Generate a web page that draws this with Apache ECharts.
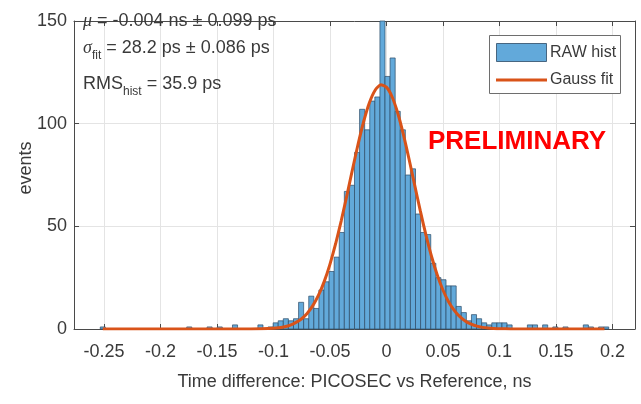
<!DOCTYPE html>
<html>
<head>
<meta charset="utf-8">
<script src="https://cdn.jsdelivr.net/npm/echarts@6/dist/echarts.min.js"></script>
<style>
  html, body { margin: 0; padding: 0; background: #ffffff; }
  #chart { width: 641px; height: 404px; }
</style>
</head>
<body>
<div id="chart"></div>
<script>
// Time difference histogram, PICOSEC vs reference, with its Gaussian fit.

// Histogram binning (ns)
const binStart = -0.25325;
const binWidth = 0.0045;
// Events per bin, left to right
const binCounts = [
  1, 0, 0, 0, 0,
  0, 0, 0, 0, 0,
  0, 0, 0, 0, 0,
  0, 0, 1, 0, 0,
  0, 1, 0, 1, 0,
  0, 2, 0, 0, 0,
  0, 2, 0, 1, 3,
  4, 5, 4, 5, 13,
  5, 16, 10, 19, 23,
  28, 35, 47, 67, 70,
  86, 107, 97, 111, 113,
  150,
  123, 132, 106, 97, 75,
  78, 56, 47, 46, 32,
  25, 24, 21, 21, 11,
  8, 4, 7, 5, 3,
  2, 3, 3, 3, 2,
  0, 0, 0, 2, 2,
  0, 2, 0, 1, 0,
  1, 0, 0, 0, 2,
  1, 0, 1, 1
];

// Gaussian fit curve samples (ns, events)
const fitX = [-0.251, -0.12, -0.11, -0.1, -0.095, -0.09, -0.085, -0.08, -0.075, -0.07,
  -0.065, -0.06, -0.055, -0.05, -0.045, -0.04, -0.035, -0.03, -0.025, -0.02,
  -0.015, -0.01, -0.005, 0, 0.005, 0.01, 0.015, 0.02, 0.025, 0.03,
  0.035, 0.04, 0.045, 0.05, 0.055, 0.06, 0.065, 0.07, 0.075, 0.08,
  0.085, 0.09, 0.095, 0.1, 0.11, 0.12, 0.193];
const fitY = [0, 0.03, 0.1, 0.36, 0.65, 1.1, 1.9, 3.2, 5.0, 7.7,
  11.5, 16.6, 23.2, 31.5, 41.4, 52.7, 65.0, 77.8, 90.2, 101.3,
  110.3, 116.3, 118.9, 117.8, 113.1, 105.2, 94.8, 82.8, 70.1, 57.5,
  45.7, 35.2, 26.3, 19.0, 13.3, 9.1, 6.0, 3.8, 2.4, 1.4,
  0.8, 0.46, 0.25, 0.13, 0.03, 0.01, 0];

// Axis ticks
const xTicks = [-0.25, -0.2, -0.15, -0.1, -0.05, 0, 0.05, 0.1, 0.15, 0.2];
const xRange = [-0.2765, 0.22];
const yRange = [0, 150];
const yStep = 50;

// Texts
const xTitle = 'Time difference: PICOSEC vs Reference, ns';
const yTitle = 'events';
const statMu = '{g|μ} = -0.004 ns ± 0.099 ps';
const statSigma = '{g|σ}{s|fit} = 28.2 ps ± 0.086 ps';
const statRms = 'RMS{s|hist} = 35.9 ps';
const legendNames = ['RAW hist', 'Gauss fit'];
const stamp = 'PRELIMINARY';

const barColor = '#62a9da';
const barEdge = '#2c4a66';
const fitColor = '#d95319';
const inkColor = '#3a3a3a';
const axisColor = '#4a4a4a';
const gridColor = '#e4e4e4';
const font = '"Liberation Sans", Arial, Helvetica, sans-serif';

const histData = [];
binCounts.forEach((c, i) => {
  if (c > 0) histData.push([binStart + i * binWidth, binStart + (i + 1) * binWidth, c]);
});
const fitData = fitX.map((x, i) => [x, fitY[i]]);

const chart = echarts.init(document.getElementById('chart'), null, { renderer: 'canvas' });

const statRich = {
  g: { fontFamily: '"Liberation Serif", "Times New Roman", serif', fontStyle: 'italic', fontSize: 18, fill: inkColor },
  s: { fontFamily: font, fontSize: 12, fill: inkColor, padding: [16, 0, 0, 0] }
};

chart.setOption({
  animation: false,
  backgroundColor: '#ffffff',
  grid: { left: 74, right: 6, top: 21, bottom: 75, containLabel: false },
  xAxis: [
    {
      type: 'value', min: xRange[0], max: xRange[1], position: 'bottom',
      name: xTitle, nameLocation: 'middle', nameGap: 44,
      nameTextStyle: { fontFamily: font, fontSize: 18, color: inkColor },
      axisLine: { show: true, onZero: false, lineStyle: { color: axisColor, width: 1 } },
      axisTick: { show: true, inside: true, length: 5, customValues: xTicks, lineStyle: { color: axisColor } },
      axisLabel: { show: true, margin: 14, customValues: xTicks, fontFamily: font, fontSize: 18, color: inkColor,
        showMinLabel: true, showMaxLabel: true },
      splitLine: { show: true, lineStyle: { color: gridColor, width: 1 } }
    },
    {
      type: 'value', min: xRange[0], max: xRange[1], position: 'top',
      axisLine: { show: true, onZero: false, lineStyle: { color: axisColor, width: 1 } },
      axisTick: { show: true, inside: true, length: 5, customValues: xTicks, lineStyle: { color: axisColor } },
      axisLabel: { show: false },
      splitLine: { show: false }
    }
  ],
  yAxis: [
    {
      type: 'value', min: yRange[0], max: yRange[1], interval: yStep, position: 'left',
      axisLine: { show: true, onZero: false, lineStyle: { color: axisColor, width: 1 } },
      axisTick: { show: true, inside: true, length: 5, lineStyle: { color: axisColor } },
      axisLabel: { show: true, margin: 7, fontFamily: font, fontSize: 18, color: inkColor },
      splitLine: { show: true, lineStyle: { color: gridColor, width: 1 } }
    },
    {
      type: 'value', min: yRange[0], max: yRange[1], interval: yStep, position: 'right',
      axisLine: { show: true, onZero: false, lineStyle: { color: axisColor, width: 1 } },
      axisTick: { show: true, inside: true, length: 5, lineStyle: { color: axisColor } },
      axisLabel: { show: false },
      splitLine: { show: false }
    }
  ],
  series: [
    {
      name: legendNames[0],
      type: 'custom',
      xAxisIndex: 0, yAxisIndex: 0,
      data: histData,
      encode: { x: [0, 1], y: 2 },
      z: 2,
      renderItem: function (params, api) {
        const top = api.coord([api.value(0), api.value(2)]);
        const base = api.coord([api.value(1), 0]);
        return {
          type: 'rect',
          shape: { x: top[0], y: top[1], width: base[0] - top[0], height: base[1] - top[1] },
          style: { fill: barColor, stroke: barEdge, lineWidth: 0.7 }
        };
      }
    },
    {
      name: legendNames[1],
      type: 'line',
      xAxisIndex: 0, yAxisIndex: 0,
      data: fitData,
      showSymbol: false,
      smooth: 0.2,
      z: 3,
      lineStyle: { color: fitColor, width: 3 }
    }
  ],
  graphic: [
    // statistics block
    { type: 'text', x: 83, y: 12, z: 10,
      style: { text: statMu, rich: statRich, fontFamily: font, fontSize: 18, fill: inkColor, verticalAlign: 'top' } },
    { type: 'text', x: 83, y: 34, z: 10,
      style: { text: statSigma, rich: statRich, fontFamily: font, fontSize: 18, fill: inkColor, verticalAlign: 'top' } },
    { type: 'text', x: 83, y: 70, z: 10,
      style: { text: statRms, rich: statRich, fontFamily: font, fontSize: 18, fill: inkColor, verticalAlign: 'top' } },
    // y axis title
    { type: 'text', x: 26, y: 168, rotation: Math.PI / 2, z: 10,
      style: { text: yTitle, fontFamily: font, fontSize: 18, fill: inkColor, align: 'center', verticalAlign: 'middle' } },
    // legend
    { type: 'rect', shape: { x: 489.5, y: 35.5, width: 131, height: 58 }, z: 10,
      style: { fill: '#ffffff', stroke: '#6e6e6e', lineWidth: 1 } },
    { type: 'rect', shape: { x: 496.5, y: 43.5, width: 50, height: 18 }, z: 11,
      style: { fill: barColor, stroke: barEdge, lineWidth: 0.8 } },
    { type: 'line', shape: { x1: 496, y1: 80, x2: 547, y2: 80 }, z: 11,
      style: { stroke: fitColor, lineWidth: 3 } },
    { type: 'text', x: 550, y: 53, z: 11,
      style: { text: legendNames[0], fontFamily: font, fontSize: 16, fill: inkColor, verticalAlign: 'middle' } },
    { type: 'text', x: 550, y: 80, z: 11,
      style: { text: legendNames[1], fontFamily: font, fontSize: 16, fill: inkColor, verticalAlign: 'middle' } },
    // stamp
    { type: 'text', x: 428, y: 142, z: 11,
      style: { text: stamp, fontFamily: font, fontWeight: 'bold', fontSize: 26, fill: '#ff0000', verticalAlign: 'middle' } }
  ]
});
</script>
</body>
</html>
